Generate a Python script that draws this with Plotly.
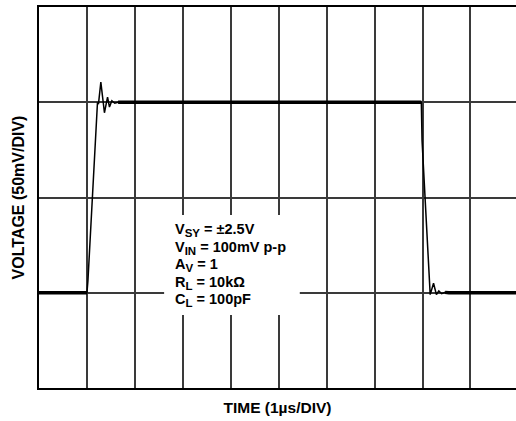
import plotly.graph_objects as go

# step response (time in µs, voltage in mV)
t_us = [0.0, 0.5, 1.0, 1.02, 1.22, 1.24, 1.29, 1.365, 1.43, 1.47, 1.52, 1.58, 1.65,
        3.0, 5.0, 7.975, 7.99, 8.115, 8.16, 8.23, 8.29, 8.34, 8.4, 8.47, 8.55, 9.96]
v_mv = [-50, -50, -50, -44, 50, 49, 60.6, 44.5, 52.7, 47.5, 50.8, 49.5, 50,
        50, 50, 50, 30, -27, -51, -45, -51, -49, -50.5, -49.8, -50, -50]

# settled portions of the trace look thicker on the screen (noise)
flat = [t <= 1.0 or 1.65 <= t <= 7.975 or t >= 8.47 for t in t_us]
v_flat = [v if f else None for v, f in zip(v_mv, flat)]

SUB = "<sub><span style='font-size:11.5px'>{}</span></sub>"
conditions = [
    "V" + SUB.format("SY") + " = ±2.5V",
    "V" + SUB.format("IN") + " = 100mV p-p",
    "A" + SUB.format("V") + " = 1",
    "R" + SUB.format("L") + " = 10kΩ",
    "C" + SUB.format("L") + " = 100pF",
]

FONT = "Liberation Sans, Arial, Helvetica, sans-serif"

fig = go.Figure()
fig.add_trace(go.Scatter(x=t_us, y=v_mv, mode="lines",
                         line=dict(color="black", width=1.5)))
fig.add_trace(go.Scatter(x=t_us, y=v_flat, mode="lines", connectgaps=False,
                         line=dict(color="black", width=3.5)))

# white box behind the test conditions, hiding the grid
fig.add_shape(type="rect", xref="x", yref="y", x0=2.61, x1=5.44, y0=-61.7, y1=-9.2,
              fillcolor="white", line=dict(width=0), layer="above")

# one annotation per line, to keep the tight line spacing of the original
for i, line in enumerate(conditions):
    fig.add_annotation(
        x=2.8, y=-17.1 - 9.19 * i, xref="x", yref="y",
        xanchor="left", yanchor="middle",
        text=line, showarrow=False, align="left",
        font=dict(family=FONT, size=14.5, color="black", weight="bold"),
    )

fig.update_layout(
    width=516, height=421,
    margin=dict(l=39, r=0, t=7, b=33),
    paper_bgcolor="white", plot_bgcolor="white",
    showlegend=False,
    font=dict(family=FONT, color="black"),
)
fig.update_xaxes(
    range=[0, 9.95], dtick=1, tick0=0, automargin=False,
    showgrid=True, gridcolor="#3a3a3a", gridwidth=1.5,
    showline=True, linecolor="black", linewidth=2, mirror=True,
    showticklabels=False, ticks="", zeroline=False,
    title=dict(text="TIME (1µs/DIV)", standoff=13,
               font=dict(family=FONT, size=15.5, weight="bold")),
)
fig.update_yaxes(
    range=[-100, 100], dtick=50, tick0=0, automargin=False,
    showgrid=True, gridcolor="#3a3a3a", gridwidth=1.5,
    showline=True, linecolor="black", linewidth=2,
    showticklabels=False, ticks="", zeroline=False,
    title=dict(text="VOLTAGE (50mV/DIV)", standoff=8,
               font=dict(family=FONT, size=16, weight="bold")),
)

# the page body has an 8px default margin; drop it so the chart fills the window
fig.write_html("out.html", config={"displayModeBar": False},
               post_script="document.body.style.margin='0';")
